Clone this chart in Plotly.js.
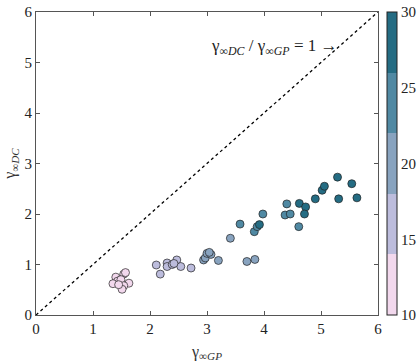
<!DOCTYPE html>
<html>
<head>
<meta charset="utf-8">
<script src="https://cdn.plot.ly/plotly-3.0.1.min.js"></script>
<style>html,body{margin:0;padding:0;background:#fff;}#chart{width:417px;height:362px;}</style>
</head>
<body>
<div id="chart"></div>
<script>
// gamma_inf GP (x), gamma_inf DC (y), colour value
const gammaGP = [
  1.40, 1.54, 1.57, 1.43, 1.49, 1.35, 1.63, 1.54, 1.51, 1.45,
  2.11, 2.18, 2.30, 2.30, 2.39, 2.47, 2.54, 2.72, 2.42,
  2.94, 2.97, 3.00, 3.07, 3.04, 3.20, 3.41, 3.70, 3.84,
  3.58, 3.83, 3.88, 3.98, 4.37, 4.40, 4.46, 4.61,
  3.92, 4.62, 4.73, 4.71, 4.90, 5.02, 5.06, 5.31, 5.29, 5.54, 5.63
];
const gammaDC = [
  0.75, 0.81, 0.84, 0.67, 0.70, 0.62, 0.63, 0.58, 0.51, 0.60,
  0.99, 0.81, 1.03, 0.96, 1.00, 1.09, 0.96, 0.93, 1.02,
  1.09, 1.13, 1.22, 1.20, 1.24, 1.08, 1.52, 1.06, 1.10,
  1.80, 1.65, 1.75, 2.00, 1.98, 2.20, 2.00, 1.75,
  1.79, 2.21, 2.14, 2.00, 2.30, 2.47, 2.55, 2.30, 2.73, 2.60, 2.32
];
const colorValue = [
  12, 12, 12, 12, 12, 12, 12, 12, 12, 12,
  16, 16, 16, 16, 16, 16, 16, 16, 16,
  20, 20, 20, 20, 20, 20, 20, 20, 20,
  24, 24, 24, 24, 24, 24, 24, 24,
  28, 28, 28, 28, 28, 28, 28, 28, 28, 28, 28
];
const parityX = [0, 6];
const parityY = [0, 6];
const axisTicks = [0, 1, 2, 3, 4, 5, 6];
const cbarTicks = [10, 15, 20, 25, 30];

const bandColors = ['rgb(242,216,237)', 'rgb(188,188,220)', 'rgb(136,163,191)', 'rgb(80,137,163)', 'rgb(36,108,131)'];
const cs = [];
bandColors.forEach((c, i) => { cs.push([i / 5, c]); cs.push([(i + 1) / 5, c]); });

const font = 'Liberation Serif, DejaVu Serif, serif';

const traces = [
  {
    x: parityX, y: parityY, mode: 'lines', type: 'scatter', hoverinfo: 'skip',
    line: {color: '#000', width: 1.3, dash: '3px,3px'}, showlegend: false
  },
  {
    x: gammaGP, y: gammaDC, mode: 'markers', type: 'scatter', showlegend: false,
    marker: {
      size: 8, color: colorValue, cmin: 10, cmax: 30, colorscale: cs,
      line: {color: 'rgba(30,30,30,0.85)', width: 0.8},
      colorbar: {
        x: 1.026, xanchor: 'left', y: 0.5, yanchor: 'middle', len: 1, lenmode: 'fraction',
        thickness: 10, thicknessmode: 'pixels', xpad: 0, ypad: 0,
        outlinewidth: 1, outlinecolor: '#222',
        tickvals: cbarTicks, ticktext: cbarTicks.map(String), ticks: '',
        tickfont: {family: font, size: 15, color: '#222'}
      }
    }
  }
];

const axisCommon = {
  range: [0, 6], tickvals: axisTicks, ticktext: axisTicks.map(String),
  ticks: 'inside', ticklen: 4, tickcolor: '#555', tickwidth: 1,
  showline: true, linecolor: '#555', linewidth: 1, mirror: 'ticks',
  showgrid: false, zeroline: false,
  tickfont: {family: font, size: 15, color: '#222'}
};

const layout = {
  width: 417, height: 362,
  margin: {l: 36, r: 39, t: 12, b: 47, autoexpand: false},
  paper_bgcolor: '#fff', plot_bgcolor: '#fff',
  xaxis: Object.assign({}, axisCommon, {
    title: {text: 'γ<sub>∞<i>GP</i></sub>', font: {family: font, size: 16, color: '#333'}, standoff: 9}
  }),
  yaxis: Object.assign({}, axisCommon, {
    title: {text: 'γ<sub>∞<i>DC</i></sub>', font: {family: font, size: 16, color: '#333'}, standoff: 4}
  }),
  annotations: [{
    x: 5.32, y: 5.3, xref: 'x', yref: 'y', xanchor: 'right', yanchor: 'middle', showarrow: false,
    text: 'γ<sub>∞<i>DC</i></sub> / γ<sub>∞<i>GP</i></sub> = 1 →',
    font: {family: font, size: 17, color: '#222'}
  }]
};

Plotly.newPlot('chart', traces, layout, {displayModeBar: false, staticPlot: true});
</script>
</body>
</html>
